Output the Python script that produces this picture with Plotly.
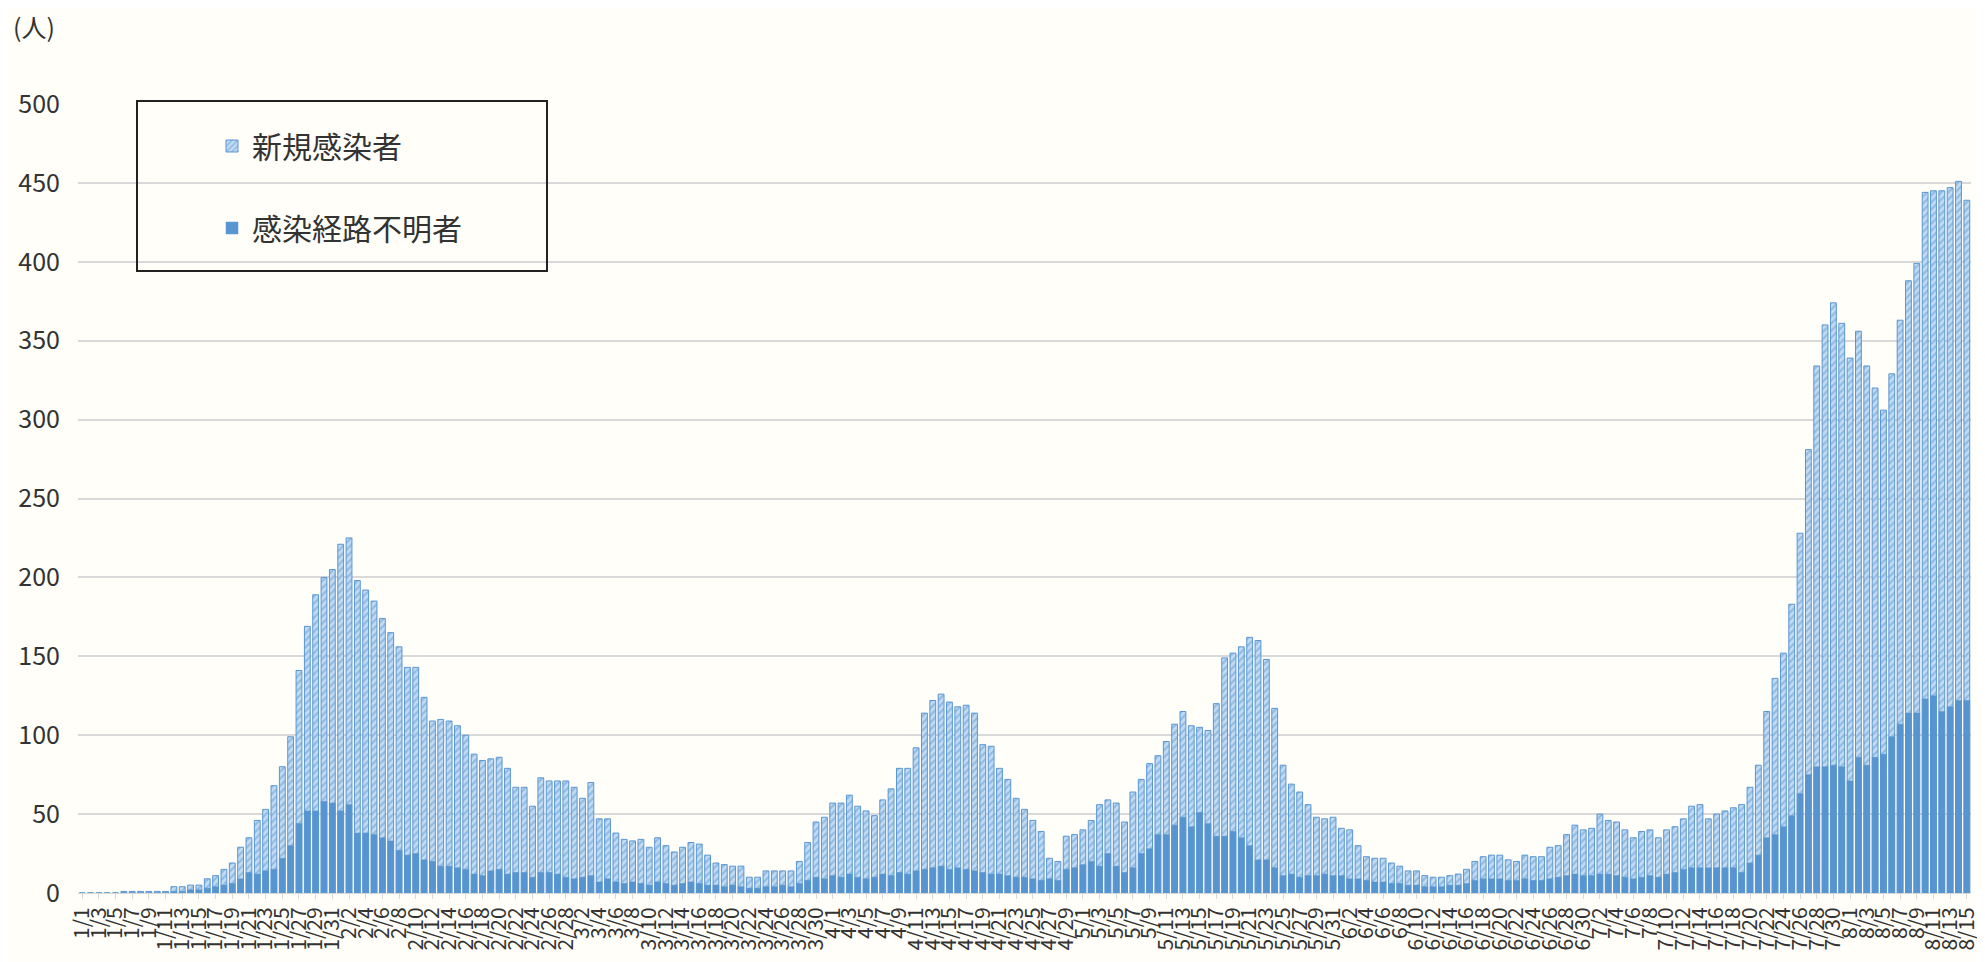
import plotly.graph_objects as go

# ---- categories (2021/1/1 - 8/15) ----
month_lengths = [31, 28, 31, 30, 31, 30, 31, 15]
dates = [f"{m}/{d}" for m, n in enumerate(month_lengths, start=1) for d in range(1, n + 1)]
tick_dates = dates[::2]

# ---- 新規感染者 (new cases) by month ----
new_jan = [0, 0, 0, 0, 0, 1, 1, 1, 1, 1, 1, 4, 4, 5, 5, 9, 11, 15, 19, 29, 35, 46, 53, 68, 80, 99, 141, 169, 189, 200, 205]
new_feb = [221, 225, 198, 192, 185, 174, 165, 156, 143, 143, 124, 109, 110, 109, 106, 100, 88, 84, 85, 86, 79, 67, 67, 55, 73, 71, 71, 71]
new_mar = [67, 60, 70, 47, 47, 38, 34, 33, 34, 29, 35, 30, 26, 29, 32, 31, 24, 19, 18, 17, 17, 10, 10, 14, 14, 14, 14, 20, 32, 45, 48]
new_apr = [57, 57, 62, 55, 52, 49, 59, 66, 79, 79, 92, 114, 122, 126, 121, 118, 119, 114, 94, 93, 79, 72, 60, 53, 46, 39, 22, 20, 36, 37]
new_may = [40, 46, 56, 59, 57, 45, 64, 72, 82, 87, 96, 107, 115, 106, 105, 103, 120, 149, 152, 156, 162, 160, 148, 117, 81, 69, 64, 56, 48, 47, 48]
new_jun = [41, 40, 30, 23, 22, 22, 19, 17, 14, 14, 11, 10, 10, 11, 12, 15, 20, 23, 24, 24, 21, 20, 24, 23, 23, 29, 30, 37, 43, 40]
new_jul = [41, 50, 46, 45, 40, 35, 39, 40, 35, 40, 42, 47, 55, 56, 47, 50, 52, 54, 56, 67, 81, 115, 136, 152, 183, 228, 281, 334, 360, 374, 361]
new_aug = [339, 356, 334, 320, 306, 329, 363, 388, 399, 444, 445, 445, 447, 451, 439]

# ---- 感染経路不明者 (unknown route) by month ----
unk_jan = [0, 0, 0, 0, 0, 0, 0, 0, 0, 0, 0, 1, 1, 2, 2, 3, 4, 5, 6, 9, 13, 12, 14, 15, 22, 30, 44, 52, 52, 58, 57]
unk_feb = [52, 56, 38, 38, 37, 35, 33, 27, 24, 25, 21, 20, 17, 17, 16, 15, 12, 11, 14, 15, 12, 13, 13, 10, 13, 13, 12, 10]
unk_mar = [9, 10, 11, 7, 9, 7, 6, 7, 6, 5, 7, 6, 5, 6, 7, 6, 5, 5, 4, 5, 4, 3, 3, 4, 4, 5, 4, 6, 8, 10, 9]
unk_apr = [11, 10, 12, 10, 9, 10, 12, 11, 13, 12, 14, 15, 16, 17, 15, 16, 15, 14, 13, 12, 12, 11, 10, 10, 9, 8, 9, 8, 15, 16]
unk_may = [18, 20, 17, 25, 17, 13, 16, 25, 28, 37, 37, 43, 48, 42, 51, 44, 36, 36, 39, 35, 30, 21, 21, 16, 11, 12, 10, 11, 11, 12, 11]
unk_jun = [11, 9, 9, 8, 7, 7, 6, 6, 5, 5, 4, 4, 4, 5, 5, 6, 8, 9, 9, 9, 8, 8, 9, 8, 8, 9, 10, 11, 12, 11]
unk_jul = [11, 12, 12, 11, 10, 9, 10, 11, 10, 12, 13, 15, 16, 16, 16, 16, 16, 16, 13, 19, 24, 35, 37, 42, 49, 63, 75, 80, 80, 81, 80]
unk_aug = [71, 86, 81, 86, 88, 99, 107, 114, 114, 123, 125, 115, 118, 122, 122]

new_cases = new_jan + new_feb + new_mar + new_apr + new_may + new_jun + new_jul + new_aug
unknown_cases = unk_jan + unk_feb + unk_mar + unk_apr + unk_may + unk_jun + unk_jul + unk_aug

y_ticks = [0, 50, 100, 150, 200, 250, 300, 350, 400, 450, 500]

# ---- figure (page has an 8px body margin, so figure coords = page coords - 8) ----
W, H = 1977, 954
ML, MR, MT, MB = 70, 14, 96, 69
pw, ph = W - ML - MR, H - MT - MB

def px_x(x):
    return (x - ML) / pw

def px_y(y):
    return (H - MB - y) / ph

font_family = "Noto Sans CJK JP, Noto Sans, sans-serif"
blue = "#5795d1"
bg = "#fffef9"

fig = go.Figure()
fig.add_trace(go.Bar(
    x=dates, y=new_cases, name="新規感染者",
    legendgroup="a",
    marker=dict(
        color="#bcd7f0",
        line=dict(color="#5a96d2", width=1),
        pattern=dict(shape="/", fgcolor="#5b9bd5", bgcolor="#c3dbf2", size=5, solidity=0.42),
    ),
))
fig.add_trace(go.Bar(
    x=dates, y=unknown_cases, name="感染経路不明者",
    legendgroup="b",
    marker=dict(color=blue, line=dict(color=blue, width=0.5)),
))

fig.update_layout(
    width=W, height=H,
    margin=dict(l=ML, r=MR, t=MT, b=MB, autoexpand=False),
    barmode="overlay",
    bargap=0.3,
    paper_bgcolor=bg,
    plot_bgcolor=bg,
    font=dict(family=font_family, color="#333333"),
    showlegend=True,
    legend=dict(
        x=px_x(204), y=px_y(112), xanchor="left", yanchor="top",
        bgcolor="rgba(0,0,0,0)", borderwidth=0,
        font=dict(size=30, color="#333333", family=font_family),
        traceorder="grouped", tracegroupgap=40,
    ),
    xaxis=dict(
        type="category",
        categoryorder="array", categoryarray=dates,
        tickmode="array", tickvals=tick_dates, ticktext=tick_dates,
        tickangle=-90,
        tickfont=dict(size=21, color="#333333"),
        showgrid=False,
        showline=True, linecolor="#d9d9d9", linewidth=1,
        ticks="outside", ticklen=5, tickcolor="#d9d9d9",
        range=[-0.5, len(dates) - 0.5],
        automargin=False,
    ),
    yaxis=dict(
        range=[0, 500],
        tickmode="array", tickvals=y_ticks,
        tickfont=dict(size=25, color="#333333"),
        showgrid=True, gridcolor="#d9d9d9", gridwidth=1.5,
        zeroline=False,
        ticks="outside", ticklen=12, tickcolor="rgba(0,0,0,0)",
        automargin=False,
    ),
    shapes=[dict(
        type="rect", xref="paper", yref="paper",
        x0=px_x(129), x1=px_x(539), y0=px_y(93), y1=px_y(263),
        line=dict(color="#222222", width=2), fillcolor="rgba(0,0,0,0)",
        layer="above",
    )],
    annotations=[dict(
        text="(人)", xref="paper", yref="paper",
        x=px_x(3), y=px_y(18), xanchor="left", yanchor="middle",
        showarrow=False, font=dict(size=25, color="#333333", family=font_family),
    )],
)

fig.write_html("out.html")
